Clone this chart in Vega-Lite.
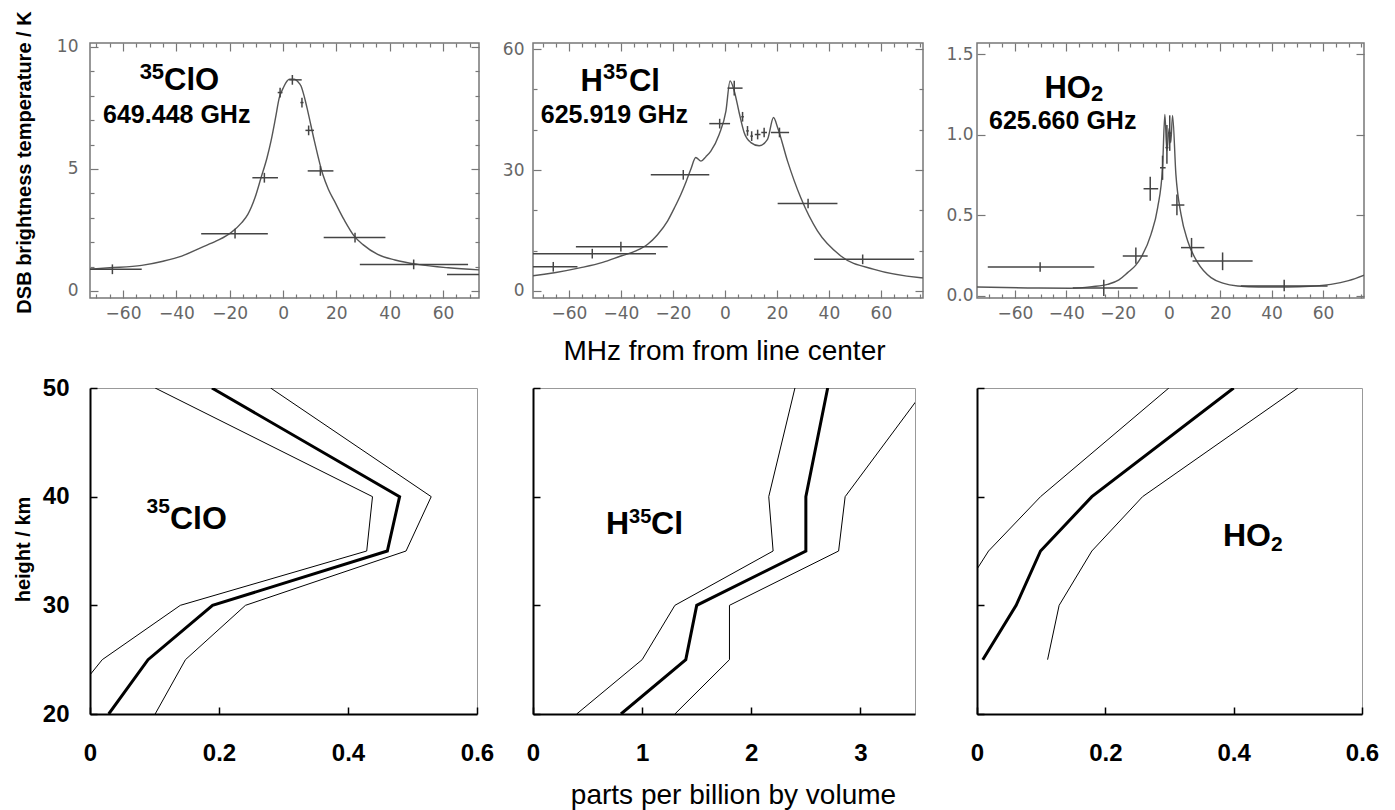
{
 "$schema": "https://vega.github.io/schema/vega-lite/v6.json",
 "background": "white",
 "padding": {"left": 12, "top": 10, "right": 0, "bottom": 0},
 "columns": 3,
 "spacing": {"row": 90, "column": 54},
 "bounds": "flush",
 "align": "none",
 "datasets": {
  "clo_curve": [{"x":-76,"y":0.87},{"x":-65,"y":0.95},{"x":-53,"y":1.05},{"x":-45,"y":1.22},{"x":-38,"y":1.43},{"x":-30.7,"y":1.78},{"x":-25,"y":2.05},{"x":-19.5,"y":2.39},{"x":-15.5,"y":2.8},{"x":-13.2,"y":3.14},{"x":-10.5,"y":3.83},{"x":-8.25,"y":4.64},{"x":-6,"y":5.46},{"x":-4.5,"y":6.15},{"x":-2.8,"y":7.1},{"x":-1.4,"y":7.92},{"x":0,"y":8.3},{"x":1.1,"y":8.54},{"x":2.5,"y":8.68},{"x":4.2,"y":8.68},{"x":5.5,"y":8.58},{"x":6.75,"y":8.4},{"x":8,"y":7.95},{"x":9.25,"y":7.38},{"x":11.75,"y":6.15},{"x":14.9,"y":4.78},{"x":17,"y":4.17},{"x":19.25,"y":3.69},{"x":23,"y":2.9},{"x":26.7,"y":2.25},{"x":30,"y":1.9},{"x":35.5,"y":1.5},{"x":42,"y":1.27},{"x":50.5,"y":1.09},{"x":62,"y":0.95},{"x":76,"y":0.85}],
  "clo_pts": [{"xc":-64,"xlo":-76,"xhi":-53,"y":0.89,"ylo":0.69,"yhi":1.09},{"xc":-18,"xlo":-30.7,"xhi":-5.7,"y":2.35,"ylo":2.15,"yhi":2.55},{"xc":-7,"xlo":-11.5,"xhi":-1.9,"y":4.64,"ylo":4.44,"yhi":4.84},{"xc":-1.1,"xlo":-2,"xhi":-0.2,"y":8.13,"ylo":7.93,"yhi":8.33},{"xc":3.5,"xlo":2.3,"xhi":7,"y":8.65,"ylo":8.45,"yhi":8.85},{"xc":7.1,"xlo":6.5,"xhi":7.7,"y":7.72,"ylo":7.52,"yhi":7.92},{"xc":9.6,"xlo":8.4,"xhi":11.6,"y":6.58,"ylo":6.38,"yhi":6.78},{"xc":14,"xlo":9.25,"xhi":18.9,"y":4.92,"ylo":4.72,"yhi":5.12},{"xc":27,"xlo":15.25,"xhi":38.4,"y":2.19,"ylo":1.99,"yhi":2.39},{"xc":49,"xlo":28.8,"xhi":69.4,"y":1.09,"ylo":0.89,"yhi":1.29},{"xc":75,"xlo":61.5,"xhi":88,"y":0.68,"ylo":0.48,"yhi":0.88}],
  "hcl_curve": [{"x":-77,"y":3.55},{"x":-74.6,"y":3.72},{"x":-65,"y":4.6},{"x":-55.4,"y":5.79},{"x":-47,"y":7.1},{"x":-40,"y":8.68},{"x":-34,"y":10},{"x":-29.7,"y":11.6},{"x":-26,"y":13.9},{"x":-22,"y":17.4},{"x":-19.5,"y":20.5},{"x":-16.9,"y":24},{"x":-14.8,"y":27.3},{"x":-13.1,"y":30.2},{"x":-11.2,"y":33.1},{"x":-9.2,"y":32.2},{"x":-7.3,"y":33.3},{"x":-5.4,"y":34.7},{"x":-2.2,"y":38.8},{"x":0.4,"y":44.6},{"x":2,"y":52.1},{"x":3.6,"y":49.6},{"x":5.5,"y":44.2},{"x":7.4,"y":39.3},{"x":10,"y":36.8},{"x":13.2,"y":36},{"x":16.4,"y":37.6},{"x":18.7,"y":43},{"x":20.3,"y":40.5},{"x":24.1,"y":32.2},{"x":29.2,"y":23.1},{"x":35.6,"y":14.9},{"x":44.6,"y":8.68},{"x":57.4,"y":5.37},{"x":75.4,"y":3.3},{"x":77,"y":3.2}],
  "hcl_pts": [{"xc":-51,"xlo":-76,"xhi":-26.5,"y":9.26,"ylo":8.06,"yhi":10.46},{"xc":-66,"xlo":-76,"xhi":-56.7,"y":6,"ylo":4.8,"yhi":7.2},{"xc":-40,"xlo":-57.3,"xhi":-22,"y":11,"ylo":9.8,"yhi":12.2},{"xc":-16,"xlo":-28.5,"xhi":-6,"y":28.8,"ylo":27.6,"yhi":30},{"xc":-2,"xlo":-6,"xhi":2,"y":41.5,"ylo":40.3,"yhi":42.7},{"xc":3.6,"xlo":1,"xhi":6.8,"y":50.3,"ylo":48.5,"yhi":52.1},{"xc":6.8,"xlo":6.3,"xhi":7.3,"y":43.2,"ylo":42,"yhi":44.4},{"xc":8.7,"xlo":8.2,"xhi":9.2,"y":39.7,"ylo":38.5,"yhi":40.9},{"xc":10.3,"xlo":9.8,"xhi":10.8,"y":38.4,"ylo":37.2,"yhi":39.6},{"xc":12.6,"xlo":11.5,"xhi":13.7,"y":38.8,"ylo":37.6,"yhi":40},{"xc":15.1,"xlo":14,"xhi":16.2,"y":39.3,"ylo":38.1,"yhi":40.5},{"xc":21,"xlo":17.7,"xhi":24.7,"y":39.3,"ylo":38.1,"yhi":40.5},{"xc":32,"xlo":20.3,"xhi":43.3,"y":21.7,"ylo":20.5,"yhi":22.9},{"xc":53,"xlo":34.3,"xhi":72.8,"y":7.85,"ylo":6.65,"yhi":9.05}],
  "ho2_curve": [{"x":-77,"y":0.056},{"x":-55,"y":0.05},{"x":-38.2,"y":0.048},{"x":-30,"y":0.058},{"x":-23.9,"y":0.072},{"x":-19.5,"y":0.1},{"x":-16.1,"y":0.145},{"x":-13,"y":0.19},{"x":-10.9,"y":0.238},{"x":-7,"y":0.382},{"x":-4.4,"y":0.548},{"x":-2.5,"y":0.795},{"x":-1.6,"y":1.126},{"x":-0.8,"y":0.9},{"x":0.1,"y":1.04},{"x":0.7,"y":0.95},{"x":1.4,"y":1.12},{"x":2.7,"y":0.754},{"x":4.7,"y":0.506},{"x":7.3,"y":0.341},{"x":11.2,"y":0.207},{"x":16.4,"y":0.114},{"x":21,"y":0.08},{"x":26.8,"y":0.062},{"x":35,"y":0.056},{"x":46.2,"y":0.056},{"x":55,"y":0.06},{"x":63.1,"y":0.072},{"x":70,"y":0.095},{"x":77,"y":0.135}],
  "ho2_pts": [{"xc":-50.2,"xlo":-70.6,"xhi":-29.1,"y":0.18,"ylo":0.15,"yhi":0.21},{"xc":-25.4,"xlo":-37.5,"xhi":-12.2,"y":0.05,"ylo":0,"yhi":0.1},{"xc":-12.9,"xlo":-18,"xhi":-8.3,"y":0.248,"ylo":0.2,"yhi":0.3},{"xc":-7.3,"xlo":-9.9,"xhi":-4.2,"y":0.665,"ylo":0.59,"yhi":0.74},{"xc":-2.5,"xlo":-3.5,"xhi":-1.3,"y":0.795,"ylo":0.72,"yhi":0.87},{"xc":-0.8,"xlo":-1.4,"xhi":-0.2,"y":0.92,"ylo":0.82,"yhi":1.06},{"xc":0.3,"xlo":-0.3,"xhi":0.9,"y":1.01,"ylo":0.9,"yhi":1.12},{"xc":3.1,"xlo":1,"xhi":6,"y":0.564,"ylo":0.5,"yhi":0.63},{"xc":8.8,"xlo":4.7,"xhi":13.8,"y":0.3,"ylo":0.24,"yhi":0.36},{"xc":20.9,"xlo":9.2,"xhi":32.6,"y":0.217,"ylo":0.16,"yhi":0.27},{"xc":44.9,"xlo":28,"xhi":61.8,"y":0.062,"ylo":0.03,"yhi":0.1}],
  "clo_prof": [{"s":"mid","h":50,"v":0.189},{"s":"mid","h":40,"v":0.48},{"s":"mid","h":35,"v":0.461},{"s":"mid","h":30,"v":0.19},{"s":"mid","h":25,"v":0.09},{"s":"mid","h":20,"v":0.029},{"s":"lo","h":50,"v":0.101},{"s":"lo","h":40,"v":0.438},{"s":"lo","h":35,"v":0.429},{"s":"lo","h":30,"v":0.14},{"s":"lo","h":25,"v":0.019},{"s":"lo","h":20,"v":-0.049},{"s":"hi","h":50,"v":0.28},{"s":"hi","h":40,"v":0.529},{"s":"hi","h":35,"v":0.49},{"s":"hi","h":30,"v":0.241},{"s":"hi","h":25,"v":0.148},{"s":"hi","h":20,"v":0.101}],
  "hcl_prof": [{"s":"mid","h":50,"v":2.7},{"s":"mid","h":40,"v":2.5},{"s":"mid","h":35,"v":2.5},{"s":"mid","h":30,"v":1.5},{"s":"mid","h":25,"v":1.4},{"s":"mid","h":20,"v":0.806},{"s":"lo","h":50,"v":2.4},{"s":"lo","h":40,"v":2.16},{"s":"lo","h":35,"v":2.2},{"s":"lo","h":30,"v":1.3},{"s":"lo","h":25,"v":1},{"s":"lo","h":20,"v":0.4},{"s":"hi","h":50,"v":3.6},{"s":"hi","h":40,"v":2.86},{"s":"hi","h":35,"v":2.8},{"s":"hi","h":30,"v":1.8},{"s":"hi","h":25,"v":1.8},{"s":"hi","h":20,"v":1.3}],
  "ho2_prof": [{"s":"mid","h":50,"v":0.4},{"s":"mid","h":40,"v":0.179},{"s":"mid","h":35,"v":0.099},{"s":"mid","h":30,"v":0.061},{"s":"mid","h":25,"v":0.009},{"s":"lo","h":50,"v":0.299},{"s":"lo","h":40,"v":0.099},{"s":"lo","h":35,"v":0.018},{"s":"lo","h":30,"v":-0.036},{"s":"hi","h":50,"v":0.5},{"s":"hi","h":40,"v":0.258},{"s":"hi","h":35,"v":0.179},{"s":"hi","h":30,"v":0.128},{"s":"hi","h":25,"v":0.11}]
 },
 "concat": [
  {
   "width": 389, "height": 255,
   "view": {"stroke": "#777", "strokeWidth": 1.5},
   "resolve": {"axis": {"x": "independent", "y": "independent"}},
   "layer": [
    {"data": {"name": "clo_curve"},
     "mark": {"type": "line", "interpolate": "monotone", "color": "#555", "strokeWidth": 1.4, "clip": true},
     "encoding": {
      "x": {"field": "x", "type": "quantitative", "scale": {"domain": [-72.4, 73.5], "nice": false, "zero": false},
            "axis": {"orient": "bottom", "values": [-60,-40,-20,0,20,40,60], "tickSize": -8, "tickColor": "#777", "tickWidth": 1.2, "domain": false, "grid": false, "labelPadding": 15, "labelFont": "DejaVu Sans", "labelFontSize": 17, "labelColor": "#666", "labelFlush": false, "labelOverlap": false, "title": null}},
      "y": {"field": "y", "type": "quantitative", "scale": {"domain": [-0.287, 10.16], "nice": false, "zero": false},
            "axis": {"orient": "left", "values": [0,5,10], "tickSize": -8, "tickColor": "#777", "tickWidth": 1.2, "domain": false, "grid": false, "labelPadding": 20, "labelFont": "DejaVu Sans", "labelFontSize": 17, "labelColor": "#666", "labelFlush": false, "labelOverlap": false,
                     "title": "DSB brightness temperature / K", "titleFont": "Liberation Sans", "titleFontWeight": "bold", "titleFontSize": 20, "titleColor": "#000", "titleAngle": 270, "titleX": -60, "titleY": 119, "titleAlign": "center", "titleBaseline": "alphabetic"}}
     }},
    {"data": {"name": "clo_pts"},
     "mark": {"type": "rule", "color": "#444", "strokeWidth": 1.5, "clip": true},
     "encoding": {
      "x": {"field": "xlo", "type": "quantitative", "scale": {"domain": [-72.4, 73.5], "nice": false, "zero": false},
            "axis": {"orient": "top", "values": [-60,-40,-20,0,20,40,60], "tickSize": -8, "tickColor": "#777", "tickWidth": 1.2, "domain": false, "grid": false, "labels": false, "title": null}},
      "x2": {"field": "xhi"},
      "y": {"field": "y", "type": "quantitative", "scale": {"domain": [-0.287, 10.16], "nice": false, "zero": false},
            "axis": {"orient": "right", "values": [0,5,10], "tickSize": -8, "tickColor": "#777", "tickWidth": 1.2, "domain": false, "grid": false, "labels": false, "title": null}}
     }},
    {"data": {"name": "clo_pts"},
     "mark": {"type": "rule", "color": "#444", "strokeWidth": 1.5, "clip": true},
     "encoding": {
      "x": {"field": "xc", "type": "quantitative", "scale": {"domain": [-72.4, 73.5], "nice": false, "zero": false},
            "axis": {"orient": "bottom", "values": [-70,-65,-55,-50,-45,-35,-30,-25,-15,-10,-5,5,10,15,25,30,35,45,50,55,65,70], "tickSize": -4, "tickColor": "#777", "tickWidth": 1.2, "domain": false, "grid": false, "labels": false, "title": null}},
      "y": {"field": "ylo", "type": "quantitative", "scale": {"domain": [-0.287, 10.16], "nice": false, "zero": false},
            "axis": {"orient": "left", "values": [1,2,3,4,6,7,8,9], "tickSize": -4, "tickColor": "#777", "tickWidth": 1.2, "domain": false, "grid": false, "labels": false, "title": null}},
      "y2": {"field": "yhi"}
     }},
    {"data": {"values": [{"t": "ClO", "x": -44.6, "y": 8.24}]},
     "mark": {"type": "text", "font": "Liberation Sans", "fontWeight": "bold", "fontSize": 31, "align": "left", "baseline": "alphabetic", "color": "#000"},
     "encoding": {
      "text": {"field": "t"},
      "x": {"field": "x", "type": "quantitative", "scale": {"domain": [-72.4, 73.5], "nice": false, "zero": false},
            "axis": {"orient": "top", "values": [-70,-65,-55,-50,-45,-35,-30,-25,-15,-10,-5,5,10,15,25,30,35,45,50,55,65,70], "tickSize": -4, "tickColor": "#777", "tickWidth": 1.2, "domain": false, "grid": false, "labels": false, "title": null}},
      "y": {"field": "y", "type": "quantitative", "scale": {"domain": [-0.287, 10.16], "nice": false, "zero": false},
            "axis": {"orient": "right", "values": [1,2,3,4,6,7,8,9], "tickSize": -4, "tickColor": "#777", "tickWidth": 1.2, "domain": false, "grid": false, "labels": false, "title": null}}
     }},
    {"data": {"values": [{"t": "35", "x": -44.6, "y": 8.24}]},
     "mark": {"type": "text", "font": "Liberation Sans", "fontWeight": "bold", "fontSize": 22, "align": "right", "baseline": "alphabetic", "dy": -11, "color": "#000"},
     "encoding": {
      "text": {"field": "t"},
      "x": {"field": "x", "type": "quantitative", "scale": {"domain": [-72.4, 73.5], "nice": false, "zero": false}, "axis": null},
      "y": {"field": "y", "type": "quantitative", "scale": {"domain": [-0.287, 10.16], "nice": false, "zero": false}, "axis": null}
     }},
    {"data": {"values": [{"t": "649.448 GHz", "x": -67.5, "y": 6.89}]},
     "mark": {"type": "text", "font": "Liberation Sans", "fontWeight": "bold", "fontSize": 25, "align": "left", "baseline": "alphabetic", "color": "#000"},
     "encoding": {
      "text": {"field": "t"},
      "x": {"field": "x", "type": "quantitative", "scale": {"domain": [-72.4, 73.5], "nice": false, "zero": false}, "axis": null},
      "y": {"field": "y", "type": "quantitative", "scale": {"domain": [-0.287, 10.16], "nice": false, "zero": false}, "axis": null}
     }}
   ]
  },
  {
   "width": 390, "height": 255,
   "view": {"stroke": "#777", "strokeWidth": 1.5},
   "resolve": {"axis": {"x": "independent", "y": "independent"}},
   "layer": [
    {"data": {"name": "hcl_curve"},
     "mark": {"type": "line", "interpolate": "monotone", "color": "#555", "strokeWidth": 1.4, "clip": true},
     "encoding": {
      "x": {"field": "x", "type": "quantitative", "scale": {"domain": [-73.8, 76.2], "nice": false, "zero": false},
            "axis": {"orient": "bottom", "values": [-60,-40,-20,0,20,40,60], "tickSize": -8, "tickColor": "#777", "tickWidth": 1.2, "domain": false, "grid": false, "labelPadding": 15, "labelFont": "DejaVu Sans", "labelFontSize": 17, "labelColor": "#666", "labelFlush": false, "labelOverlap": false,
                     "title": "MHz from from line center", "titleFont": "Liberation Sans", "titleFontWeight": "normal", "titleFontSize": 28, "titleColor": "#000", "titleX": 191, "titleY": 61, "titleAlign": "center", "titleBaseline": "alphabetic"}},
      "y": {"field": "y", "type": "quantitative", "scale": {"domain": [-1.736, 61.49], "nice": false, "zero": false},
            "axis": {"orient": "left", "values": [0,30,60], "tickSize": -8, "tickColor": "#777", "tickWidth": 1.2, "domain": false, "grid": false, "labelPadding": 17, "labelFont": "DejaVu Sans", "labelFontSize": 17, "labelColor": "#666", "labelFlush": false, "labelOverlap": false, "title": null}}
     }},
    {"data": {"name": "hcl_pts"},
     "mark": {"type": "rule", "color": "#444", "strokeWidth": 1.5, "clip": true},
     "encoding": {
      "x": {"field": "xlo", "type": "quantitative", "scale": {"domain": [-73.8, 76.2], "nice": false, "zero": false},
            "axis": {"orient": "top", "values": [-60,-40,-20,0,20,40,60], "tickSize": -8, "tickColor": "#777", "tickWidth": 1.2, "domain": false, "grid": false, "labels": false, "title": null}},
      "x2": {"field": "xhi"},
      "y": {"field": "y", "type": "quantitative", "scale": {"domain": [-1.736, 61.49], "nice": false, "zero": false},
            "axis": {"orient": "right", "values": [0,30,60], "tickSize": -8, "tickColor": "#777", "tickWidth": 1.2, "domain": false, "grid": false, "labels": false, "title": null}}
     }},
    {"data": {"name": "hcl_pts"},
     "mark": {"type": "rule", "color": "#444", "strokeWidth": 1.5, "clip": true},
     "encoding": {
      "x": {"field": "xc", "type": "quantitative", "scale": {"domain": [-73.8, 76.2], "nice": false, "zero": false},
            "axis": {"orient": "bottom", "values": [-70,-65,-55,-50,-45,-35,-30,-25,-15,-10,-5,5,10,15,25,30,35,45,50,55,65,70,75], "tickSize": -4, "tickColor": "#777", "tickWidth": 1.2, "domain": false, "grid": false, "labels": false, "title": null}},
      "y": {"field": "ylo", "type": "quantitative", "scale": {"domain": [-1.736, 61.49], "nice": false, "zero": false},
            "axis": {"orient": "left", "values": [10,20,40,50], "tickSize": -4, "tickColor": "#777", "tickWidth": 1.2, "domain": false, "grid": false, "labels": false, "title": null}},
      "y2": {"field": "yhi"}
     }},
    {"data": {"values": [{"t": "H", "x": -46.9, "y": 49.6}]},
     "mark": {"type": "text", "font": "Liberation Sans", "fontWeight": "bold", "fontSize": 31, "align": "right", "baseline": "alphabetic", "color": "#000"},
     "encoding": {
      "text": {"field": "t"},
      "x": {"field": "x", "type": "quantitative", "scale": {"domain": [-73.8, 76.2], "nice": false, "zero": false},
            "axis": {"orient": "top", "values": [-70,-65,-55,-50,-45,-35,-30,-25,-15,-10,-5,5,10,15,25,30,35,45,50,55,65,70,75], "tickSize": -4, "tickColor": "#777", "tickWidth": 1.2, "domain": false, "grid": false, "labels": false, "title": null}},
      "y": {"field": "y", "type": "quantitative", "scale": {"domain": [-1.736, 61.49], "nice": false, "zero": false},
            "axis": {"orient": "right", "values": [10,20,40,50], "tickSize": -4, "tickColor": "#777", "tickWidth": 1.2, "domain": false, "grid": false, "labels": false, "title": null}}
     }},
    {"data": {"values": [{"t": "35", "x": -46.9, "y": 49.6}]},
     "mark": {"type": "text", "font": "Liberation Sans", "fontWeight": "bold", "fontSize": 22, "align": "left", "baseline": "alphabetic", "dy": -12, "color": "#000"},
     "encoding": {
      "text": {"field": "t"},
      "x": {"field": "x", "type": "quantitative", "scale": {"domain": [-73.8, 76.2], "nice": false, "zero": false}, "axis": null},
      "y": {"field": "y", "type": "quantitative", "scale": {"domain": [-1.736, 61.49], "nice": false, "zero": false}, "axis": null}
     }},
    {"data": {"values": [{"t": "Cl", "x": -46.9, "y": 49.6}]},
     "mark": {"type": "text", "font": "Liberation Sans", "fontWeight": "bold", "fontSize": 31, "align": "left", "baseline": "alphabetic", "dx": 26, "color": "#000"},
     "encoding": {
      "text": {"field": "t"},
      "x": {"field": "x", "type": "quantitative", "scale": {"domain": [-73.8, 76.2], "nice": false, "zero": false}, "axis": null},
      "y": {"field": "y", "type": "quantitative", "scale": {"domain": [-1.736, 61.49], "nice": false, "zero": false}, "axis": null}
     }},
    {"data": {"values": [{"t": "625.919 GHz", "x": -70.8, "y": 41.7}]},
     "mark": {"type": "text", "font": "Liberation Sans", "fontWeight": "bold", "fontSize": 25, "align": "left", "baseline": "alphabetic", "color": "#000"},
     "encoding": {
      "text": {"field": "t"},
      "x": {"field": "x", "type": "quantitative", "scale": {"domain": [-73.8, 76.2], "nice": false, "zero": false}, "axis": null},
      "y": {"field": "y", "type": "quantitative", "scale": {"domain": [-1.736, 61.49], "nice": false, "zero": false}, "axis": null}
     }}
   ]
  },
  {
   "width": 387, "height": 255,
   "view": {"stroke": "#777", "strokeWidth": 1.5},
   "resolve": {"axis": {"x": "independent", "y": "independent"}},
   "layer": [
    {"data": {"name": "ho2_curve"},
     "mark": {"type": "line", "interpolate": "monotone", "color": "#555", "strokeWidth": 1.4, "clip": true},
     "encoding": {
      "x": {"field": "x", "type": "quantitative", "scale": {"domain": [-74.8, 76.0], "nice": false, "zero": false},
            "axis": {"orient": "bottom", "values": [-60,-40,-20,0,20,40,60], "tickSize": -8, "tickColor": "#777", "tickWidth": 1.2, "domain": false, "grid": false, "labelPadding": 15, "labelFont": "DejaVu Sans", "labelFontSize": 17, "labelColor": "#666", "labelFlush": false, "labelOverlap": false, "title": null}},
      "y": {"field": "y", "type": "quantitative", "scale": {"domain": [-0.0124, 1.5685], "nice": false, "zero": false},
            "axis": {"orient": "left", "values": [0,0.5,1,1.5], "format": ".1f", "tickSize": -8, "tickColor": "#777", "tickWidth": 1.2, "domain": false, "grid": false, "labelPadding": 12, "labelFont": "DejaVu Sans", "labelFontSize": 17, "labelColor": "#666", "labelFlush": false, "labelOverlap": false, "title": null}}
     }},
    {"data": {"name": "ho2_pts"},
     "mark": {"type": "rule", "color": "#444", "strokeWidth": 1.5, "clip": true},
     "encoding": {
      "x": {"field": "xlo", "type": "quantitative", "scale": {"domain": [-74.8, 76.0], "nice": false, "zero": false},
            "axis": {"orient": "top", "values": [-60,-40,-20,0,20,40,60], "tickSize": -8, "tickColor": "#777", "tickWidth": 1.2, "domain": false, "grid": false, "labels": false, "title": null}},
      "x2": {"field": "xhi"},
      "y": {"field": "y", "type": "quantitative", "scale": {"domain": [-0.0124, 1.5685], "nice": false, "zero": false},
            "axis": {"orient": "right", "values": [0,0.5,1,1.5], "tickSize": -8, "tickColor": "#777", "tickWidth": 1.2, "domain": false, "grid": false, "labels": false, "title": null}}
     }},
    {"data": {"name": "ho2_pts"},
     "mark": {"type": "rule", "color": "#444", "strokeWidth": 1.5, "clip": true},
     "encoding": {
      "x": {"field": "xc", "type": "quantitative", "scale": {"domain": [-74.8, 76.0], "nice": false, "zero": false},
            "axis": {"orient": "bottom", "values": [-70,-65,-55,-50,-45,-35,-30,-25,-15,-10,-5,5,10,15,25,30,35,45,50,55,65,70,75], "tickSize": -4, "tickColor": "#777", "tickWidth": 1.2, "domain": false, "grid": false, "labels": false, "title": null}},
      "y": {"field": "ylo", "type": "quantitative", "scale": {"domain": [-0.0124, 1.5685], "nice": false, "zero": false}, "axis": null},
      "y2": {"field": "yhi"}
     }},
    {"data": {"values": [{"t": "HO", "x": -30.4, "y": 1.229}]},
     "mark": {"type": "text", "font": "Liberation Sans", "fontWeight": "bold", "fontSize": 31, "align": "right", "baseline": "alphabetic", "color": "#000"},
     "encoding": {
      "text": {"field": "t"},
      "x": {"field": "x", "type": "quantitative", "scale": {"domain": [-74.8, 76.0], "nice": false, "zero": false},
            "axis": {"orient": "top", "values": [-70,-65,-55,-50,-45,-35,-30,-25,-15,-10,-5,5,10,15,25,30,35,45,50,55,65,70,75], "tickSize": -4, "tickColor": "#777", "tickWidth": 1.2, "domain": false, "grid": false, "labels": false, "title": null}},
      "y": {"field": "y", "type": "quantitative", "scale": {"domain": [-0.0124, 1.5685], "nice": false, "zero": false}, "axis": null}
     }},
    {"data": {"values": [{"t": "2", "x": -30.4, "y": 1.229}]},
     "mark": {"type": "text", "font": "Liberation Sans", "fontWeight": "bold", "fontSize": 22, "align": "left", "baseline": "alphabetic", "dy": 3, "color": "#000"},
     "encoding": {
      "text": {"field": "t"},
      "x": {"field": "x", "type": "quantitative", "scale": {"domain": [-74.8, 76.0], "nice": false, "zero": false}, "axis": null},
      "y": {"field": "y", "type": "quantitative", "scale": {"domain": [-0.0124, 1.5685], "nice": false, "zero": false}, "axis": null}
     }},
    {"data": {"values": [{"t": "625.660 GHz", "x": -70.1, "y": 1.035}]},
     "mark": {"type": "text", "font": "Liberation Sans", "fontWeight": "bold", "fontSize": 25, "align": "left", "baseline": "alphabetic", "color": "#000"},
     "encoding": {
      "text": {"field": "t"},
      "x": {"field": "x", "type": "quantitative", "scale": {"domain": [-74.8, 76.0], "nice": false, "zero": false}, "axis": null},
      "y": {"field": "y", "type": "quantitative", "scale": {"domain": [-0.0124, 1.5685], "nice": false, "zero": false}, "axis": null}
     }}
   ]
  },
  {
   "width": 387, "height": 326,
   "view": {"stroke": "#999", "strokeWidth": 1},
   "resolve": {"axis": {"x": "independent", "y": "independent"}},
   "layer": [
    {"data": {"name": "clo_prof"},
     "transform": [{"filter": "datum.s === 'mid'"}],
     "mark": {"type": "line", "color": "#000", "strokeWidth": 3, "clip": true},
     "encoding": {
      "x": {"field": "v", "type": "quantitative", "scale": {"domain": [0, 0.6], "nice": false, "zero": false},
            "axis": {"orient": "bottom", "values": [0,0.2,0.4,0.6], "format": "~g", "tickSize": -7, "tickColor": "#000", "tickWidth": 1.5, "domain": true, "domainColor": "#000", "domainWidth": 2, "grid": false, "zindex": 1, "labelPadding": 34, "labelFont": "Liberation Sans", "labelFontWeight": "bold", "labelFontSize": 24, "labelColor": "#000", "labelFlush": false, "labelOverlap": false, "title": null}},
      "y": {"field": "h", "type": "quantitative", "scale": {"domain": [20, 50], "nice": false, "zero": false},
            "axis": {"orient": "left", "values": [20,30,40,50], "format": "d", "tickSize": -7, "tickColor": "#000", "tickWidth": 1.5, "domain": true, "domainColor": "#000", "domainWidth": 2, "grid": false, "zindex": 1, "labelPadding": 28, "labelFont": "Liberation Sans", "labelFontWeight": "bold", "labelFontSize": 24, "labelColor": "#000", "labelFlush": false, "labelOverlap": false,
                     "title": "height / km", "titleFont": "Liberation Sans", "titleFontWeight": "bold", "titleFontSize": 20, "titleColor": "#000", "titleAngle": 270, "titleX": -61, "titleY": 161, "titleAlign": "center", "titleBaseline": "alphabetic"}},
      "order": {"field": "h", "type": "quantitative"}
     }},
    {"data": {"name": "clo_prof"},
     "transform": [{"filter": "datum.s !== 'mid'"}],
     "mark": {"type": "line", "color": "#000", "strokeWidth": 1, "clip": true},
     "encoding": {
      "x": {"field": "v", "type": "quantitative", "scale": {"domain": [0, 0.6], "nice": false, "zero": false}, "axis": null},
      "y": {"field": "h", "type": "quantitative", "scale": {"domain": [20, 50], "nice": false, "zero": false}, "axis": null},
      "detail": {"field": "s", "type": "nominal"},
      "order": {"field": "h", "type": "quantitative"}
     }},
    {"data": {"values": [{"t": "ClO", "x": 0.124, "y": 37.03}]},
     "mark": {"type": "text", "font": "Liberation Sans", "fontWeight": "bold", "fontSize": 32, "align": "left", "baseline": "alphabetic", "color": "#000"},
     "encoding": {
      "text": {"field": "t"},
      "x": {"field": "x", "type": "quantitative", "scale": {"domain": [0, 0.6], "nice": false, "zero": false}, "axis": null},
      "y": {"field": "y", "type": "quantitative", "scale": {"domain": [20, 50], "nice": false, "zero": false}, "axis": null}
     }},
    {"data": {"values": [{"t": "35", "x": 0.124, "y": 37.03}]},
     "mark": {"type": "text", "font": "Liberation Sans", "fontWeight": "bold", "fontSize": 21, "align": "right", "baseline": "alphabetic", "dy": -16, "color": "#000"},
     "encoding": {
      "text": {"field": "t"},
      "x": {"field": "x", "type": "quantitative", "scale": {"domain": [0, 0.6], "nice": false, "zero": false}, "axis": null},
      "y": {"field": "y", "type": "quantitative", "scale": {"domain": [20, 50], "nice": false, "zero": false}, "axis": null}
     }}
   ]
  },
  {
   "width": 382, "height": 326,
   "view": {"stroke": "#999", "strokeWidth": 1},
   "resolve": {"axis": {"x": "independent", "y": "independent"}},
   "layer": [
    {"data": {"name": "hcl_prof"},
     "transform": [{"filter": "datum.s === 'mid'"}],
     "mark": {"type": "line", "color": "#000", "strokeWidth": 3, "clip": true},
     "encoding": {
      "x": {"field": "v", "type": "quantitative", "scale": {"domain": [0, 3.5], "nice": false, "zero": false},
            "axis": {"orient": "bottom", "values": [0,1,2,3], "format": "d", "tickSize": -7, "tickColor": "#000", "tickWidth": 1.5, "domain": true, "domainColor": "#000", "domainWidth": 2, "grid": false, "zindex": 1, "labelPadding": 34, "labelFont": "Liberation Sans", "labelFontWeight": "bold", "labelFontSize": 24, "labelColor": "#000", "labelFlush": false, "labelOverlap": false,
                     "title": "parts per billion by volume", "titleFont": "Liberation Sans", "titleFontWeight": "normal", "titleFontSize": 28, "titleColor": "#000", "titleX": 200, "titleY": 89, "titleAlign": "center", "titleBaseline": "alphabetic"}},
      "y": {"field": "h", "type": "quantitative", "scale": {"domain": [20, 50], "nice": false, "zero": false},
            "axis": {"orient": "left", "values": [20,30,40,50], "tickSize": -7, "tickColor": "#000", "tickWidth": 1.5, "domain": true, "domainColor": "#000", "domainWidth": 2, "grid": false, "zindex": 1, "labels": false, "title": null}},
      "order": {"field": "h", "type": "quantitative"}
     }},
    {"data": {"name": "hcl_prof"},
     "transform": [{"filter": "datum.s !== 'mid'"}],
     "mark": {"type": "line", "color": "#000", "strokeWidth": 1, "clip": true},
     "encoding": {
      "x": {"field": "v", "type": "quantitative", "scale": {"domain": [0, 3.5], "nice": false, "zero": false}, "axis": null},
      "y": {"field": "h", "type": "quantitative", "scale": {"domain": [20, 50], "nice": false, "zero": false}, "axis": null},
      "detail": {"field": "s", "type": "nominal"},
      "order": {"field": "h", "type": "quantitative"}
     }},
    {"data": {"values": [{"t": "H", "x": 0.88, "y": 36.56}]},
     "mark": {"type": "text", "font": "Liberation Sans", "fontWeight": "bold", "fontSize": 32, "align": "right", "baseline": "alphabetic", "color": "#000"},
     "encoding": {
      "text": {"field": "t"},
      "x": {"field": "x", "type": "quantitative", "scale": {"domain": [0, 3.5], "nice": false, "zero": false}, "axis": null},
      "y": {"field": "y", "type": "quantitative", "scale": {"domain": [20, 50], "nice": false, "zero": false}, "axis": null}
     }},
    {"data": {"values": [{"t": "35", "x": 0.88, "y": 36.56}]},
     "mark": {"type": "text", "font": "Liberation Sans", "fontWeight": "bold", "fontSize": 20, "align": "left", "baseline": "alphabetic", "dy": -11, "color": "#000"},
     "encoding": {
      "text": {"field": "t"},
      "x": {"field": "x", "type": "quantitative", "scale": {"domain": [0, 3.5], "nice": false, "zero": false}, "axis": null},
      "y": {"field": "y", "type": "quantitative", "scale": {"domain": [20, 50], "nice": false, "zero": false}, "axis": null}
     }},
    {"data": {"values": [{"t": "Cl", "x": 0.88, "y": 36.56}]},
     "mark": {"type": "text", "font": "Liberation Sans", "fontWeight": "bold", "fontSize": 32, "align": "left", "baseline": "alphabetic", "dx": 22, "color": "#000"},
     "encoding": {
      "text": {"field": "t"},
      "x": {"field": "x", "type": "quantitative", "scale": {"domain": [0, 3.5], "nice": false, "zero": false}, "axis": null},
      "y": {"field": "y", "type": "quantitative", "scale": {"domain": [20, 50], "nice": false, "zero": false}, "axis": null}
     }}
   ]
  },
  {
   "width": 385, "height": 326,
   "view": {"stroke": "#999", "strokeWidth": 1},
   "resolve": {"axis": {"x": "independent", "y": "independent"}},
   "layer": [
    {"data": {"name": "ho2_prof"},
     "transform": [{"filter": "datum.s === 'mid'"}],
     "mark": {"type": "line", "color": "#000", "strokeWidth": 3, "clip": true},
     "encoding": {
      "x": {"field": "v", "type": "quantitative", "scale": {"domain": [0, 0.6], "nice": false, "zero": false},
            "axis": {"orient": "bottom", "values": [0,0.2,0.4,0.6], "format": "~g", "tickSize": -7, "tickColor": "#000", "tickWidth": 1.5, "domain": true, "domainColor": "#000", "domainWidth": 2, "grid": false, "zindex": 1, "labelPadding": 34, "labelFont": "Liberation Sans", "labelFontWeight": "bold", "labelFontSize": 24, "labelColor": "#000", "labelFlush": false, "labelOverlap": false, "title": null}},
      "y": {"field": "h", "type": "quantitative", "scale": {"domain": [20, 50], "nice": false, "zero": false},
            "axis": {"orient": "left", "values": [20,30,40,50], "tickSize": -7, "tickColor": "#000", "tickWidth": 1.5, "domain": true, "domainColor": "#000", "domainWidth": 2, "grid": false, "zindex": 1, "labels": false, "title": null}},
      "order": {"field": "h", "type": "quantitative"}
     }},
    {"data": {"name": "ho2_prof"},
     "transform": [{"filter": "datum.s !== 'mid'"}],
     "mark": {"type": "line", "color": "#000", "strokeWidth": 1, "clip": true},
     "encoding": {
      "x": {"field": "v", "type": "quantitative", "scale": {"domain": [0, 0.6], "nice": false, "zero": false}, "axis": null},
      "y": {"field": "h", "type": "quantitative", "scale": {"domain": [20, 50], "nice": false, "zero": false}, "axis": null},
      "detail": {"field": "s", "type": "nominal"},
      "order": {"field": "h", "type": "quantitative"}
     }},
    {"data": {"values": [{"t": "HO", "x": 0.458, "y": 35.46}]},
     "mark": {"type": "text", "font": "Liberation Sans", "fontWeight": "bold", "fontSize": 32, "align": "right", "baseline": "alphabetic", "color": "#000"},
     "encoding": {
      "text": {"field": "t"},
      "x": {"field": "x", "type": "quantitative", "scale": {"domain": [0, 0.6], "nice": false, "zero": false}, "axis": null},
      "y": {"field": "y", "type": "quantitative", "scale": {"domain": [20, 50], "nice": false, "zero": false}, "axis": null}
     }},
    {"data": {"values": [{"t": "2", "x": 0.458, "y": 35.46}]},
     "mark": {"type": "text", "font": "Liberation Sans", "fontWeight": "bold", "fontSize": 21, "align": "left", "baseline": "alphabetic", "dy": 5, "color": "#000"},
     "encoding": {
      "text": {"field": "t"},
      "x": {"field": "x", "type": "quantitative", "scale": {"domain": [0, 0.6], "nice": false, "zero": false}, "axis": null},
      "y": {"field": "y", "type": "quantitative", "scale": {"domain": [20, 50], "nice": false, "zero": false}, "axis": null}
     }}
   ]
  }
 ],
 "config": {
  "view": {"stroke": null},
  "axis": {"grid": false}
 }
}
